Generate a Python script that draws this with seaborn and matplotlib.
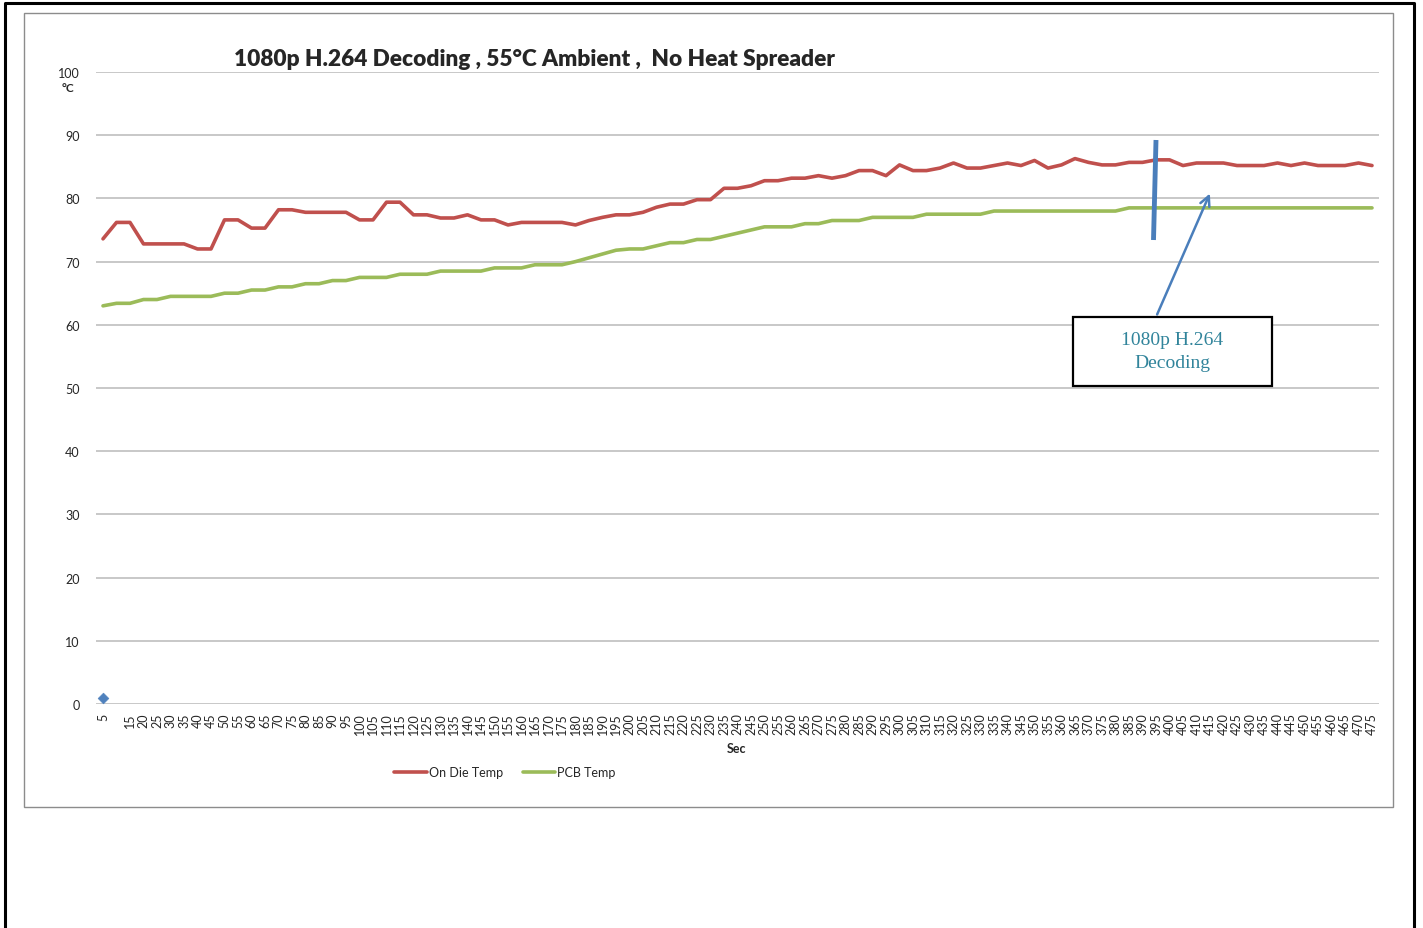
import numpy as np
import pandas as pd
from matplotlib import pyplot as plt
from matplotlib.patches import Rectangle
import seaborn as sns

# seconds on the category axis
secs = list(range(5, 480, 5))
tick_labels = [str(s) for s in secs]
tick_labels[1] = ''  # "10" is not shown in the original

die_temp = [73.6, 76.2, 76.2, 72.8, 72.8, 72.8, 72.8, 72.0, 72.0, 76.6,
            76.6, 75.3, 75.3, 78.2, 78.2, 77.8, 77.8, 77.8, 77.8, 76.6,
            76.6, 79.4, 79.4, 77.4, 77.4, 76.9, 76.9, 77.4, 76.6, 76.6,
            75.8, 76.2, 76.2, 76.2, 76.2, 75.8, 76.5, 77.0, 77.4, 77.4,
            77.8, 78.6, 79.1, 79.1, 79.8, 79.8, 81.6, 81.6, 82.0, 82.8,
            82.8, 83.2, 83.2, 83.6, 83.2, 83.6, 84.4, 84.4, 83.6, 85.3,
            84.4, 84.4, 84.8, 85.6, 84.8, 84.8, 85.2, 85.6, 85.2, 86.0,
            84.8, 85.3, 86.3, 85.7, 85.3, 85.3, 85.7, 85.7, 86.1, 86.1,
            85.2, 85.6, 85.6, 85.6, 85.2, 85.2, 85.2, 85.6, 85.2, 85.6,
            85.2, 85.2, 85.2, 85.6, 85.2]

pcb_temp = [63.0, 63.4, 63.4, 64.0, 64.0, 64.5, 64.5, 64.5, 64.5, 65.0,
            65.0, 65.5, 65.5, 66.0, 66.0, 66.5, 66.5, 67.0, 67.0, 67.5,
            67.5, 67.5, 68.0, 68.0, 68.0, 68.5, 68.5, 68.5, 68.5, 69.0,
            69.0, 69.0, 69.5, 69.5, 69.5, 70.0, 70.6, 71.2, 71.8, 72.0,
            72.0, 72.5, 73.0, 73.0, 73.5, 73.5, 74.0, 74.5, 75.0, 75.5,
            75.5, 75.5, 76.0, 76.0, 76.5, 76.5, 76.5, 77.0, 77.0, 77.0,
            77.0, 77.5, 77.5, 77.5, 77.5, 77.5, 78.0, 78.0, 78.0, 78.0,
            78.0, 78.0, 78.0, 78.0, 78.0, 78.0, 78.5, 78.5, 78.5, 78.5,
            78.5, 78.5, 78.5, 78.5, 78.5, 78.5, 78.5, 78.5, 78.5, 78.5,
            78.5, 78.5, 78.5, 78.5, 78.5]

# lone marker of the third series
marker_sec = [5]
marker_val = [1]

sns.set_style('white')
plt.rcParams['font.family'] = ['Lato', 'DejaVu Sans']

W, H = 1423, 929
fig = plt.figure(figsize=(W / 100, H / 100), dpi=100)


def fx(px):
    return px / W


def fy(py):
    return 1 - py / H


ax = fig.add_axes([fx(96.25), fy(705), fx(1282.5), (705 - 73) / H])

pos = np.arange(len(secs))
df = pd.DataFrame({'pos': pos, 'die': die_temp, 'pcb': pcb_temp})

sns.lineplot(data=df, x='pos', y='die', ax=ax, color='#C0504D', linewidth=2.6,
             label='On Die Temp')
sns.lineplot(data=df, x='pos', y='pcb', ax=ax, color='#9BBB59', linewidth=2.6,
             label='PCB Temp')
sns.scatterplot(x=[secs.index(s) for s in marker_sec], y=marker_val, ax=ax,
                marker='D', color='#4F81BD', s=30, edgecolor='#4F81BD', zorder=5)

ax.set_xlim(-0.5, len(secs) - 0.5)
ax.set_ylim(0, 100)
ax.set_yticks(range(0, 101, 10))
ax.set_xticks(pos)
ax.set_xticklabels(tick_labels, rotation=90, fontsize=9)
ax.tick_params(axis='y', labelsize=9, length=0, pad=12)
ax.tick_params(axis='x', length=0, pad=6)
ax.grid(axis='y', color='#BFBFBF', linewidth=1.2)
ax.grid(axis='x', visible=False)
for s in ax.spines.values():
    s.set_visible(False)
ax.set_xlabel('')
ax.set_ylabel('')
ax.get_legend().remove()

# titles and axis labels
fig.text(fx(534), fy(59), '1080p H.264 Decoding , 55°C Ambient ,  No Heat Spreader',
         ha='center', va='center', fontsize=16.3, fontweight='heavy')
fig.text(fx(68), fy(89), '°C', ha='center', va='center', fontsize=8.5, fontweight='bold')
fig.text(fx(737), fy(749), 'Sec', ha='center', va='center', fontsize=9, fontweight='bold')

handles, labels = ax.get_legend_handles_labels()
fig.legend(handles[:2], labels[:2], loc='center', bbox_to_anchor=(fx(505), fy(773)),
           ncol=2, frameon=False, fontsize=9, handlelength=2.6, handletextpad=0.15,
           columnspacing=1.6)

# chart area border and page border
fig.add_artist(Rectangle((fx(24), fy(808)), fx(1393 - 24), (808 - 14) / H,
                         transform=fig.transFigure, fill=False,
                         edgecolor='#8C8C8C', linewidth=1.0))
fig.add_artist(plt.Line2D([fx(4.5), fx(4.5), fx(1414), fx(1414)],
                          [0, fy(3.5), fy(3.5), 0], transform=fig.transFigure,
                          color='black', linewidth=2.2))

# annotation shapes
fig.add_artist(plt.Line2D([fx(1156), fx(1153.5)], [fy(141), fy(241)],
                          transform=fig.transFigure, color='#4A7EBB',
                          linewidth=3.5, solid_capstyle='butt'))
ax.annotate('', xy=(fx(1211), fy(192)), xycoords='figure fraction',
            xytext=(fx(1156), fy(318)), textcoords='figure fraction',
            arrowprops=dict(arrowstyle='->,head_length=0.7,head_width=0.35',
                            color='#4A7EBB', linewidth=1.8))
fig.add_artist(Rectangle((fx(1073), fy(387)), fx(1272 - 1073), (387 - 318) / H,
                         transform=fig.transFigure, facecolor='white',
                         edgecolor='black', linewidth=1.6, zorder=10))
fig.text(fx(1172.5), fy(352), '1080p H.264\nDecoding', ha='center', va='center',
         fontsize=14, color='#31849B', family=['Liberation Serif', 'DejaVu Serif'],
         linespacing=1.45, zorder=11)

fig.savefig('out.png', dpi=100)
